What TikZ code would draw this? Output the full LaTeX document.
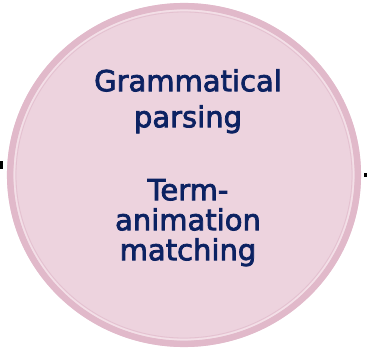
\documentclass[tikz,border=0pt]{standalone}
\usepackage{fontspec}
\setmainfont{DejaVu Sans}[FakeBold=2.6]
\usepackage{tikz}
\usetikzlibrary{positioning}
\definecolor{ringpink}{HTML}{E1B9CA}
\definecolor{fillpink}{HTML}{EDD3DE}
\definecolor{edgepink}{HTML}{F3DFE7}
\definecolor{navy}{HTML}{0C2262}
\tikzset{stub/.style={line width=#1, black}}

\begin{document}
\begin{tikzpicture}[x=1pt,y=-1pt]
			\useasboundingbox (0,0) rectangle (367,350);
			\fill [fillpink] (184,175) ellipse [x radius=177, y radius=172];
			\draw [ringpink, line width=6.5] (184,175) ellipse [x radius=173.8, y radius=168.8];
			\draw [edgepink, line width=1.6] (184,175) ellipse [x radius=169.6, y radius=164.6];
			\draw [ringpink!70!fillpink, line width=0.8] (184,175) ellipse [x radius=168, y radius=163];
			\node [anchor=north, inner sep=0, align=center, text=navy, font=\fontsize{29}{36}\selectfont] (phases) at (188,69) {Grammatical\\parsing\\[37pt]Term-\\[-6pt]animation\\[-6pt]matching};
			\coordinate (inL) at (0,165);
			\coordinate (inR) at (3,165);
			\coordinate (outL) at (364,175);
			\coordinate (outR) at (367,175);
			\draw [stub=8pt] (inL) -- (inR);
			\draw [stub=3.5pt] (outL) -- (outR);
		\end{tikzpicture}
\end{document}
